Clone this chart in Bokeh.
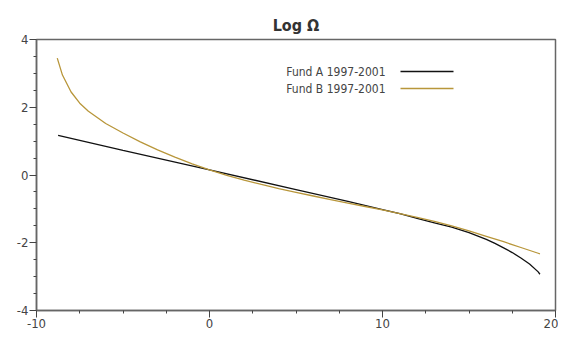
from bokeh.plotting import figure
from bokeh.models import Range1d, FixedTicker, Label, Arrow, CustomJSTickFormatter
from bokeh.embed import file_html
from bokeh.resources import INLINE

FONT = "'DejaVu Sans Condensed', 'Liberation Sans Narrow', 'Roboto Condensed', sans-serif"

x_a = [-8.75, -5, 0, 5, 8, 10, 11, 12, 13, 14, 15, 16, 16.5, 17, 17.5, 18, 18.5, 19, 19.1]
y_a = [1.17, 0.73, 0.15, -0.43, -0.78, -1.02, -1.14, -1.28, -1.41, -1.54, -1.70, -1.90, -2.02, -2.15, -2.29, -2.45, -2.63, -2.86, -2.93]

x_b = [-8.8, -8.5, -8, -7.5, -7, -6, -5, -4, -3, -2, -1, 0, 1, 2, 3, 4, 5, 6, 7, 8, 9, 10, 11, 12, 13, 14, 15, 16, 17, 18, 19, 19.1]
y_b = [3.45, 2.95, 2.45, 2.12, 1.88, 1.52, 1.24, 0.98, 0.74, 0.53, 0.33, 0.15, -0.01, -0.15, -0.28, -0.40, -0.51, -0.62, -0.73,
       -0.83, -0.93, -1.03, -1.14, -1.25, -1.37, -1.50, -1.65, -1.81, -1.97, -2.14, -2.31, -2.33]

series_labels = ["Fund A 1997-2001", "Fund B 1997-2001"]
series_colors = ["#111111", "#b8963a"]
x_ticks = [-10, 0, 10, 20]
y_ticks = [-4, -2, 0, 2, 4]
title_text = "Log \u03a9"

p = figure(width=558, height=330, output_backend="svg", toolbar_location=None,
           x_range=Range1d(-10, 20), y_range=Range1d(-4, 4),
           min_border_left=36, min_border_right=3, min_border_top=39, min_border_bottom=0)
p.title.text = title_text
p.title.align = "center"
p.title.text_font = FONT
p.title.text_font_size = "16px"
p.title.text_font_style = "bold"
p.title.text_color = "#333333"
p.title.standoff = 10

p.xgrid.visible = False
p.ygrid.visible = False
p.outline_line_color = "#666666"
p.outline_line_width = 1.5
p.background_fill_color = "white"
p.border_fill_color = "white"

for ax in (p.xaxis[0], p.yaxis[0]):
    ax.major_label_text_font = FONT
    ax.major_label_text_font_size = "13px"
    ax.major_label_text_color = "#444444"
    ax.axis_line_color = "#666666"
    ax.axis_line_width = 1.5
    ax.major_tick_line_color = "#444444"
    ax.minor_tick_line_color = "#444444"
    ax.major_tick_out = 7
    ax.major_tick_in = 0
    ax.minor_tick_out = 3
    ax.minor_tick_in = 0
    ax.major_label_standoff = 1
    ax.formatter = CustomJSTickFormatter(code="return String(tick);")

p.xaxis[0].ticker = FixedTicker(ticks=x_ticks, minor_ticks=[-7.5, -5, -2.5, 2.5, 5, 7.5, 12.5, 15, 17.5])
p.yaxis[0].ticker = FixedTicker(ticks=y_ticks,
                                minor_ticks=[-3.5, -3, -2.5, -1.5, -1, -0.5, 0.5, 1, 1.5, 2.5, 3, 3.5])

p.line(x_a, y_a, line_color=series_colors[0], line_width=1.3)
p.line(x_b, y_b, line_color=series_colors[1], line_width=1.3)

# legend (label left, line right) in screen units relative to the frame
for i, (lab, col) in enumerate(zip(series_labels, series_colors)):
    ys = 239 - 17 * i
    p.add_layout(Label(x=349, y=ys, x_units="screen", y_units="screen", text=lab,
                       text_font=FONT, text_font_size="12px", text_color="#444444",
                       text_align="right", text_baseline="middle"))
    p.add_layout(Arrow(x_start=364, y_start=ys, x_end=417, y_end=ys,
                       start_units="screen", end_units="screen", start=None, end=None,
                       line_color=col, line_width=1.3))

open("out.html", "w").write(file_html(p, INLINE))
